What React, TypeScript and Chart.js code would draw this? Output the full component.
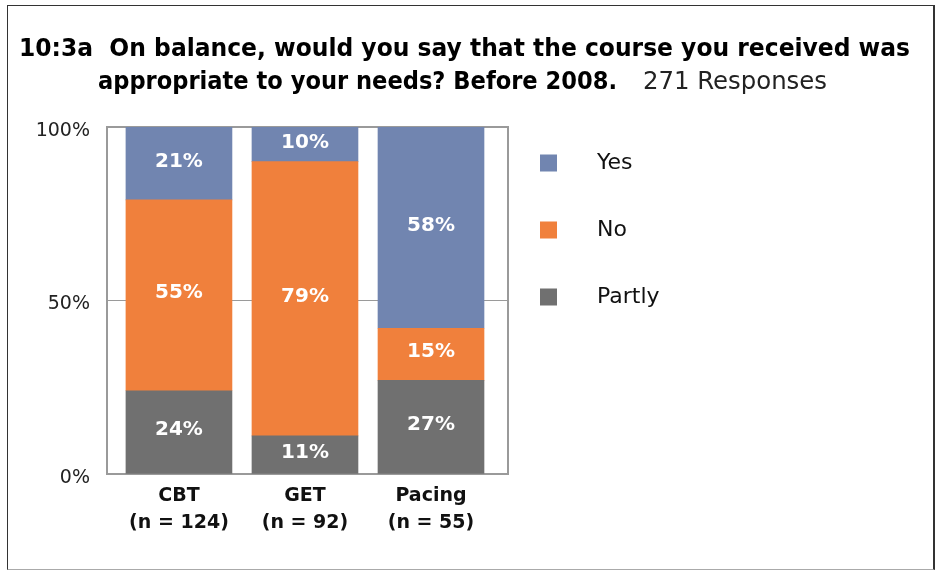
import React, { useEffect, useRef } from "react";
import { Chart, registerables } from "chart.js";

Chart.register(...registerables);

const CATEGORIES = ["CBT", "GET", "Pacing"];
const SAMPLE_SIZES = [124, 92, 55];
const SERIES_NAMES = ["Partly", "No", "Yes"];
const PARTLY = [24, 11, 27];
const NO = [55, 79, 15];
const YES = [21, 10, 58];
const SERIES_COLORS = ["#707070", "#F0803C", "#7185B0"];
const Y_TICKS = [0, 50, 100];
const TITLE_LINE1 = "10:3a  On balance, would you say that the course you received was";
const TITLE_LINE2_BOLD = "appropriate to your needs? Before 2008.";
const TITLE_LINE2_NORMAL = "271 Responses";

const FONT = "'DejaVu Sans', sans-serif";

function drawFit(ctx: CanvasRenderingContext2D, text: string, x: number, y: number, w: number, font: string) {
  ctx.save();
  ctx.font = font;
  ctx.textAlign = "left";
  ctx.textBaseline = "alphabetic";
  const m = ctx.measureText(text).width;
  ctx.translate(x, y);
  ctx.scale(w / m, 1);
  ctx.fillText(text, 0, 0);
  ctx.restore();
}

const framePlugin = {
  id: "frame",
  beforeDatasetsDraw(chart: any) {
    const { ctx, chartArea } = chart;
    ctx.save();
    ctx.strokeStyle = "#9a9a9a";
    ctx.lineWidth = 2;
    ctx.strokeRect(chartArea.left, chartArea.top, chartArea.right - chartArea.left, chartArea.bottom - chartArea.top);
    ctx.restore();
  },
};

const labelsPlugin = {
  id: "valueLabels",
  afterDatasetsDraw(chart: any) {
    const { ctx } = chart;
    ctx.save();
    ctx.font = `bold 20px ${FONT}`;
    ctx.fillStyle = "#ffffff";
    ctx.textAlign = "center";
    ctx.textBaseline = "middle";
    chart.data.datasets.forEach((ds: any, i: number) => {
      const meta = chart.getDatasetMeta(i);
      meta.data.forEach((bar: any, j: number) => {
        const p = bar.getProps(["x", "y", "base"], true);
        ctx.fillText(`${ds.data[j].y}%`, p.x, (p.y + p.base) / 2 - 2);
      });
    });
    ctx.restore();
  },
};

const titleLegendPlugin = {
  id: "titleLegend",
  afterDraw(chart: any) {
    const { ctx } = chart;
    ctx.save();
    ctx.fillStyle = "#000000";
    drawFit(ctx, TITLE_LINE1, 19, 56, 891, `bold 24px ${FONT}`);
    drawFit(ctx, TITLE_LINE2_BOLD, 98, 89, 519, `bold 24px ${FONT}`);
    ctx.fillStyle = "#222222";
    drawFit(ctx, TITLE_LINE2_NORMAL, 643, 89, 184, `24px ${FONT}`);

    const datasets = chart.data.datasets;
    const order = datasets.map((_: any, i: number) => i).reverse();
    order.forEach((di: number, k: number) => {
      const ds = datasets[di];
      const cy = 163 + k * 67;
      ctx.fillStyle = ds.backgroundColor;
      ctx.fillRect(540, cy - 8.5, 17, 17);
      ctx.fillStyle = "#111111";
      ctx.font = `22px ${FONT}`;
      ctx.textAlign = "left";
      ctx.textBaseline = "middle";
      ctx.fillText(ds.label, 597, cy);
    });
    ctx.restore();
  },
};

export default function App() {
  const ref = useRef<HTMLCanvasElement | null>(null);

  useEffect(() => {
    if (!ref.current) return;
    const seriesValues = [PARTLY, NO, YES];
    const chart = new Chart(ref.current, {
      type: "bar",
      data: {
        datasets: SERIES_NAMES.map((name, i) => ({
          label: name,
          data: CATEGORIES.map((_, j) => ({ x: j, y: seriesValues[i][j] })),
          backgroundColor: SERIES_COLORS[i],
          borderWidth: 0,
          barThickness: 106,
        })),
      },
      options: {
        responsive: false,
        animation: false,
        layout: { padding: { left: 0, right: 427, top: 127, bottom: 26 } },
        plugins: {
          legend: { display: false },
          tooltip: { enabled: false },
          title: { display: false },
        },
        scales: {
          x: {
            type: "linear",
            stacked: true,
            offset: false,
            min: -0.571,
            max: 2.611,
            grid: { display: false, offset: false },
            border: { display: false },
            afterBuildTicks: (scale: any) => {
              scale.ticks = CATEGORIES.map((_, i) => ({ value: i }));
            },
            afterFit: (scale: any) => {
              scale.height = 70;
            },
            ticks: {
              autoSkip: false,
              maxRotation: 0,
              padding: 1,
              color: "#111111",
              font: { family: FONT, size: 19, weight: "bold", lineHeight: 1.4 },
              callback: (v: any) => {
                const i = Math.round(Number(v));
                return CATEGORIES[i] !== undefined ? [CATEGORIES[i], `(n = ${SAMPLE_SIZES[i]})`] : "";
              },
            },
          },
          y: {
            stacked: true,
            min: 0,
            max: 100,
            afterBuildTicks: (scale: any) => {
              scale.ticks = Y_TICKS.map((v) => ({ value: v }));
            },
            afterFit: (scale: any) => {
              scale.width = 107;
            },
            grid: { color: "#9a9a9a", lineWidth: 1, drawTicks: false },
            border: { display: false },
            ticks: {
              padding: 17,
              labelOffset: 4,
              color: "#222222",
              font: { family: FONT, size: 19 },
              callback: (v: any) => `${v}%`,
            },
          },
        },
      } as any,
      plugins: [framePlugin, labelsPlugin, titleLegendPlugin],
    });
    return () => chart.destroy();
  }, []);

  return (
    <div>
      <canvas
        ref={ref}
        width={935}
        height={570}
        style={{ position: "fixed", left: 0, top: 0, width: 935, height: 570 }}
      />
      <div
        style={{
          position: "fixed",
          left: 7,
          top: 5,
          width: 928,
          height: 565,
          boxSizing: "border-box",
          borderLeft: "1px solid #333",
          borderTop: "1px solid #333",
          borderRight: "2px solid #333",
          borderBottom: "1px solid #aaa",
          pointerEvents: "none",
        }}
      />
    </div>
  );
}
